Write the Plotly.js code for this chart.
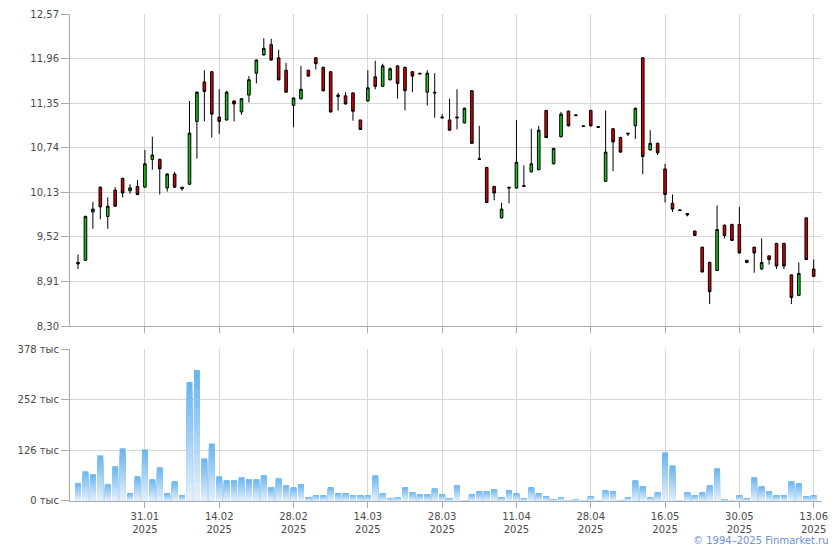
<!DOCTYPE html>
<html>
<head>
<meta charset="utf-8">
<script src="https://cdn.plot.ly/plotly-3.0.1.min.js"></script>
<style>html,body{margin:0;padding:0;background:#fff}#chart{width:840px;height:550px}</style>
</head>
<body>
<div id="chart"></div>
<script>
// ---- data ----
const openP  = [9.15,9.20,9.86,10.20,9.80,10.16,10.32,10.15,10.21,10.20,
  10.58,10.58,10.19,10.38,10.20,10.24,11.10,11.64,11.78,11.16,
  11.12,11.38,11.23,11.46,11.76,12.01,12.15,11.97,11.80,11.32,
  11.41,11.80,11.97,11.84,11.78,11.44,11.45,11.49,11.12,11.38,
  11.71,11.58,11.67,11.86,11.84,11.78,11.76,11.50,11.50,11.16,
  11.12,11.16,11.08,11.52,10.59,10.47,10.21,9.78,10.20,10.19,
  10.21,10.41,10.44,11.25,10.52,10.89,11.24,11.19,11.04,11.25,
  11.03,10.28,11.00,10.88,10.94,11.04,11.97,10.71,10.80,10.45,
  9.98,9.89,9.84,9.60,9.38,9.17,9.06,9.68,9.69,9.69,
  9.20,9.38,9.08,9.26,9.43,9.43,9.00,8.72,9.78,9.08];
const highP  = [9.28,9.81,10.00,10.21,10.06,10.20,10.33,10.24,10.30,10.71,
  10.89,10.59,10.39,10.41,10.20,11.38,11.51,11.80,11.79,11.54,
  11.52,11.39,11.42,11.72,11.95,12.24,12.23,12.08,11.90,11.43,
  11.86,11.81,11.98,11.85,11.79,11.49,11.50,11.50,11.12,11.80,
  11.93,11.89,11.84,11.87,11.85,11.79,11.76,11.80,11.76,11.20,
  11.41,11.54,11.29,11.53,11.04,10.48,10.22,9.99,10.20,11.12,
  10.50,11.00,11.04,11.26,10.74,11.23,11.25,11.19,11.04,11.26,
  11.03,11.25,11.01,10.89,10.94,11.29,11.98,10.98,10.81,10.52,
  10.10,9.89,9.84,9.60,9.38,9.18,9.95,9.69,9.70,9.93,
  9.20,9.38,9.50,9.26,9.44,9.44,9.00,9.17,9.78,9.21];
const lowP   = [9.08,9.19,9.63,9.76,9.63,9.93,10.06,10.11,10.09,10.19,
  10.44,10.10,10.14,10.19,10.15,10.23,10.59,11.10,10.88,10.93,
  11.11,11.10,11.19,11.36,11.62,12.00,11.93,11.66,11.49,11.02,
  11.40,11.71,11.81,11.51,11.22,11.25,11.33,11.11,10.99,11.37,
  11.54,11.57,11.66,11.41,11.25,11.50,11.75,11.32,11.15,11.14,
  10.97,10.99,11.07,10.79,10.58,9.98,10.02,9.77,9.98,10.18,
  10.21,10.40,10.43,10.87,10.51,10.88,11.03,11.18,11.03,11.03,
  11.02,10.27,10.42,10.67,10.90,10.86,10.38,10.70,10.64,9.99,
  9.86,9.88,9.80,9.54,9.03,8.60,9.05,9.50,9.47,9.29,
  9.16,9.03,9.07,9.14,9.08,9.08,8.60,8.71,9.21,8.97];
const closeP = [9.17,9.80,9.90,9.93,9.94,9.94,10.12,10.19,10.10,10.52,
  10.64,10.45,10.38,10.20,10.18,10.94,11.50,11.51,11.20,11.10,
  11.50,11.34,11.41,11.67,11.94,12.10,11.94,11.67,11.50,11.42,
  11.54,11.72,11.89,11.52,11.23,11.46,11.34,11.24,10.99,11.56,
  11.58,11.86,11.82,11.62,11.52,11.72,11.75,11.76,11.49,11.15,
  10.98,11.15,11.28,10.80,10.58,9.99,10.12,9.90,10.19,10.54,
  10.22,10.52,10.98,10.88,10.73,11.20,11.04,11.18,11.03,11.04,
  11.02,10.68,10.82,10.68,10.93,11.28,10.62,10.80,10.67,10.10,
  9.90,9.88,9.82,9.54,9.04,8.77,9.62,9.54,9.47,9.30,
  9.17,9.30,9.17,9.21,9.12,9.12,8.69,9.02,9.21,8.98];
// volume, thousands of shares
const volume = [44.5,74,66.7,113.6,42,86.5,131,19.8,61.8,128.5,
  54.4,84,19.8,49.4,14.8,296,326,106,143,61.8,
  51.9,51.9,59.3,54.4,54.4,64.2,34.6,56.8,39.5,34.6,
  42,9.9,14.8,14.8,34.6,19.8,19.8,14.8,14.8,14.8,
  64.2,19.8,7.4,9.9,34.6,22.2,17.3,17.3,32,17.3,
  7.4,39.5,2.5,17.3,24.7,24.7,29.6,9.9,27.2,19.8,
  7.4,34.6,19.8,12.4,4.9,9.9,2.5,4.9,2.5,12.4,
  2.5,27.2,24.7,2.5,9.9,51.9,37,9.9,22.2,121,
  88.9,2.5,22.2,14.8,22.2,39.5,81.5,4.9,2.5,14.8,
  7.4,59.3,37,24.7,14.8,14.8,49.4,44.5,12.4,14.8];
const xTickIndex = [9,19,29,39,49,59,69,79,89,99];
const xTickDates = ["31.01","14.02","28.02","14.03","28.03","11.04","28.04","16.05","30.05","13.06"];
const xTickYear = "2025";
const priceTicks = [8.30,8.91,9.52,10.13,10.74,11.35,11.96,12.57];
const volTicks = [0,126,252,378];

// ---- build ----
const xIdx = openP.map((_, i) => i);
const font = {family: "DejaVu Sans, Verdana, sans-serif", size: 10, color: "#4a4a4a"};
const gridC = "#d4d8dd", axisC = "#a6aab2";

const traces = [{
  type: "candlestick", x: xIdx, open: openP, high: highP, low: lowP, close: closeP,
  xaxis: "x", yaxis: "y", hoverinfo: "skip", whiskerwidth: 0,
  increasing: {line: {color: "#000000", width: 1}, fillcolor: "#16c416"},
  decreasing: {line: {color: "#000000", width: 1}, fillcolor: "#d20000"}
}];

// volume bars with a vertical gradient (overlaid bands, darkest on top)
const N = 14;
const gradTop = [108, 182, 240], gradBot = [226, 238, 250];
for (let i = 0; i < N; i++) {
  const t = i / (N - 1);
  const c = gradTop.map((v, k) => Math.round(v + (gradBot[k] - v) * t));
  traces.push({
    type: "bar", x: xIdx, y: volume.map(v => v * (N - i) / N),
    xaxis: "x2", yaxis: "y2", hoverinfo: "skip",
    marker: {color: `rgb(${c[0]},${c[1]},${c[2]})`, line: {width: 0}}
  });
}

const xRange = [-1.08, 100.12];
const layout = {
  width: 840, height: 550,
  margin: {l: 70, r: 18, t: 14, b: 49},
  paper_bgcolor: "#ffffff", plot_bgcolor: "#ffffff",
  showlegend: false, font: font,
  barmode: "overlay", bargap: 0.2, boxgap: 0.5,
  xaxis: {
    domain: [0, 1], anchor: "y", range: xRange, type: "linear",
    tickmode: "array", tickvals: xTickIndex, showticklabels: false,
    ticks: "outside", ticklen: 6, tickcolor: axisC,
    showgrid: true, gridcolor: gridC, gridwidth: 1,
    showline: true, linecolor: axisC, linewidth: 1, zeroline: false,
    rangeslider: {visible: false}, fixedrange: true
  },
  yaxis: {
    domain: [0.3593, 1], anchor: "x", range: [priceTicks[0], priceTicks[priceTicks.length - 1]],
    tickmode: "array", tickvals: priceTicks,
    ticktext: priceTicks.map(v => v.toFixed(2).replace(".", ",")),
    ticks: "outside", ticklen: 8, tickcolor: axisC,
    showgrid: true, gridcolor: gridC, gridwidth: 1,
    showline: true, linecolor: axisC, linewidth: 1, zeroline: false,
    tickfont: font, fixedrange: true
  },
  xaxis2: {
    domain: [0, 1], anchor: "y2", range: xRange, type: "linear",
    tickmode: "array", tickvals: xTickIndex,
    ticktext: xTickDates.map(d => d + "<br>" + xTickYear),
    ticks: "outside", ticklen: 6, tickcolor: axisC,
    showgrid: true, gridcolor: gridC, gridwidth: 1,
    showline: true, linecolor: axisC, linewidth: 1, zeroline: false,
    tickfont: font, fixedrange: true
  },
  yaxis2: {
    domain: [0, 0.3121], anchor: "x2", range: [volTicks[0], volTicks[volTicks.length - 1]],
    tickmode: "array", tickvals: volTicks, ticktext: volTicks.map(v => v + " тыс"),
    ticks: "outside", ticklen: 8, tickcolor: axisC,
    showgrid: true, gridcolor: gridC, gridwidth: 1,
    showline: true, linecolor: axisC, linewidth: 1, zeroline: false,
    tickfont: font, fixedrange: true
  },
  annotations: [{
    text: "© 1994–2025 Finmarket.ru", xref: "paper", yref: "paper",
    x: 1.012, y: -0.082, xanchor: "right", yanchor: "middle", showarrow: false,
    font: {family: "DejaVu Sans, Verdana, sans-serif", size: 10, color: "#6f8fd8"}
  }]
};

Plotly.newPlot("chart", traces, layout, {displayModeBar: false, staticPlot: true});
</script>
</body>
</html>
